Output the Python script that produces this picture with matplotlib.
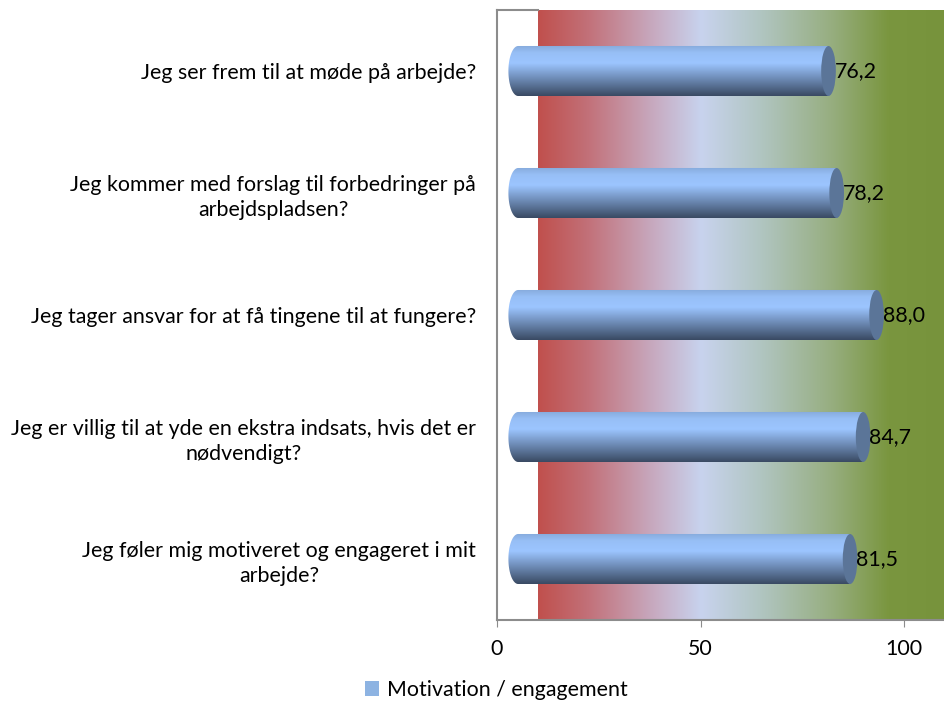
import numpy as np
import matplotlib.pyplot as plt
from matplotlib.colors import LinearSegmentedColormap
from matplotlib.patches import Ellipse, Patch, PathPatch
from matplotlib.path import Path

plt.rcParams["font.family"] = ["Lato", "DejaVu Sans"]

questions = [
    "Jeg ser frem til at møde på arbejde?",
    "Jeg kommer med forslag til forbedringer på\narbejdspladsen?",
    "Jeg tager ansvar for at få tingene til at fungere?",
    "Jeg er villig til at yde en ekstra indsats, hvis det er\nnødvendigt?",
    "Jeg føler mig motiveret og engageret i mit\narbejde?",
]
scores = [76.2, 78.2, 88.0, 84.7, 81.5]
series_name = "Motivation / engagement"

FS = 15.4

fig = plt.figure(figsize=(9.45, 7.04), dpi=100)
ax = fig.add_axes([497 / 945, 1 - 620 / 704, 448 / 945, 610 / 704])
ax.set_xlim(0, 110)
ax.set_ylim(-0.5, len(questions) - 0.5)

# background band from red to green
bg = LinearSegmentedColormap.from_list(
    "bg",
    [(0.0, "#C0504D"), (0.12, "#C27078"), (0.28, "#C7A9BF"),
     (0.40, "#C8D3EE"), (0.55, "#B0C5C0"), (0.72, "#97AE80"),
     (0.86, "#7A963F"), (1.0, "#77933C")],
)
ax.imshow(np.linspace(0, 1, 256)[None, :], cmap=bg, aspect="auto",
          extent=[10, 110, -0.5, len(questions) - 0.5], zorder=0)

cyl = LinearSegmentedColormap.from_list(
    "cyl",
    [(0.0, "#3A4A63"), (0.35, "#6F8DB8"), (0.65, "#9CC5FF"),
     (0.85, "#97BFF6"), (1.0, "#86AADB")],
)

bar_h = 0.41
x0 = 5.2      # 3d offset of the cylinders
rx_left = 2.4
rx_right = 1.8
ypos = np.arange(len(questions))[::-1]
for y, v in zip(ypos, scores):
    x1 = x0 + v
    top, bot = y + bar_h / 2, y - bar_h / 2
    t = np.linspace(1.5 * np.pi, 0.5 * np.pi, 40)
    verts = [(x0, top), (x1, top), (x1, bot), (x0, bot)]
    verts += list(zip(x0 + rx_left * np.cos(t), y + bar_h / 2 * np.sin(t)))
    clip = PathPatch(Path(verts + [verts[0]]), facecolor="none",
                     edgecolor="none", transform=ax.transData)
    ax.add_patch(clip)
    im = ax.imshow(np.linspace(0, 1, 128)[:, None], cmap=cyl, aspect="auto",
                   origin="lower", extent=[x0 - rx_left, x1, bot, top],
                   zorder=2)
    im.set_clip_path(clip)
    ax.add_patch(Ellipse((x1, y), 2 * rx_right, bar_h, facecolor="#5B7598",
                         edgecolor="none", zorder=3))
    ax.text(x1 + rx_right - 0.3, y, f"{v:.1f}".replace(".", ","),
            va="center", ha="left", fontsize=FS, zorder=4)

ax.set_yticks(ypos)
ax.set_yticklabels(questions, fontsize=FS, multialignment="center",
                   linespacing=1.3)
ax.tick_params(axis="y", length=0, pad=15)
ax.set_xticks([0, 50, 100])
ax.set_xticklabels(["0", "50", "100"], fontsize=FS)
ax.tick_params(axis="x", direction="out", length=5, color="#8C8C8C", pad=9)

for side in ["top", "right"]:
    ax.spines[side].set_visible(False)
for side in ["left", "bottom"]:
    ax.spines[side].set_color("#8C8C8C")
    ax.spines[side].set_linewidth(1.5)
ax.axhline(len(questions) - 0.5, xmin=0, xmax=10 / 110, color="#8C8C8C",
           lw=1.5, clip_on=False)

fig.legend(handles=[Patch(facecolor="#8DB3E2", label=series_name)],
           loc="center", bbox_to_anchor=(0.525, 1 - 690 / 704), frameon=False,
           fontsize=FS, handlelength=0.7, handleheight=0.7,
           handletextpad=0.35)

fig.savefig("out.png", dpi=100)
